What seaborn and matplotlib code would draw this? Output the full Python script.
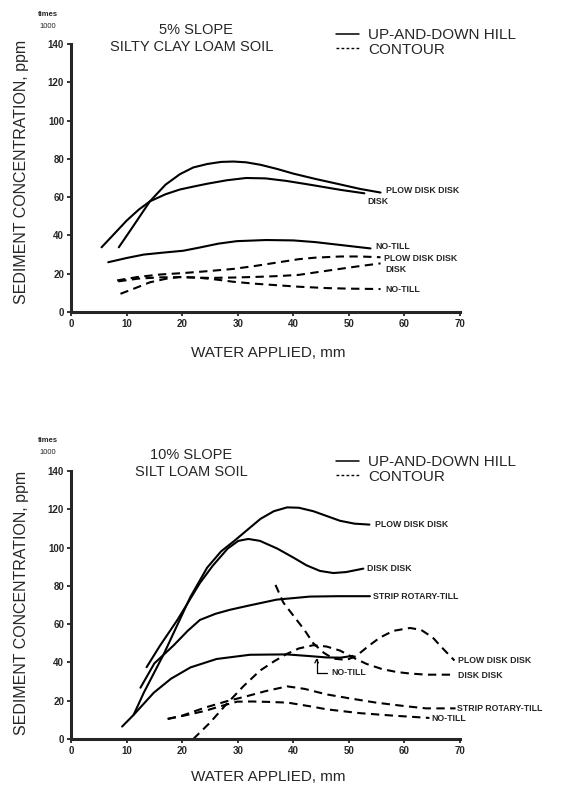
#!/usr/bin/env python3

import seaborn as sns
import matplotlib.pyplot as plt
from matplotlib.lines import Line2D

sns.set_style("ticks")
plt.rcParams['font.family'] = ['Liberation Sans', 'DejaVu Sans']

# ---- 5% slope, silty clay loam soil ----
ud_pdd5_x = [8.6, 11, 14.2, 17, 19.6, 22, 24.5, 27, 29.2, 31.5, 34.1, 37, 40, 44, 48.5, 52, 55.7]
ud_pdd5_y = [33.8, 44, 57.8, 66.5, 72, 75.5, 77.3, 78.4, 78.6, 78.2, 76.9, 74.8, 72.3, 69.5, 66.6, 64.3, 62.4]
ud_disk5_x = [5.5, 8, 10, 12.2, 14.2, 17, 19.6, 22, 24.5, 28, 31.5, 35, 38.7, 43, 48.5, 52.8]
ud_disk5_y = [33.8, 41.5, 47.7, 53.5, 57.8, 61.5, 64, 65.5, 67, 68.8, 70, 69.8, 68.5, 66.5, 63.8, 62]
ud_nt5_x = [6.7, 10, 13.1, 16.5, 20.2, 23.2, 26.5, 29.8, 35.1, 40, 44, 48.5, 53.9]
ud_nt5_y = [26, 28.2, 30, 31, 32, 33.7, 35.7, 37, 37.6, 37.4, 36.5, 35, 33.2]
ct_pdd5_x = [8.3, 12, 16.1, 20, 24, 29.2, 33, 37, 41, 44, 48.5, 52, 55.7]
ct_pdd5_y = [16.5, 18.3, 19.6, 20.3, 21.2, 22.5, 24, 25.8, 27.6, 28.4, 29, 29, 28.6]
ct_disk5_x = [8.5, 12, 16, 20, 25, 29.2, 34, 37.5, 41, 46.4, 51, 55.7]
ct_disk5_y = [16, 17.4, 18.1, 18.2, 17.8, 18, 18.4, 18.8, 19.4, 21.7, 23.6, 25.4]
ct_nt5_x = [8.9, 11.5, 14.2, 17, 19.6, 23, 26, 29.2, 33, 37, 41, 46, 50, 55.7]
ct_nt5_y = [9.5, 12.4, 15.5, 17.3, 18.3, 17.9, 17, 15.8, 14.8, 14, 13.2, 12.5, 12.2, 12]

# ---- 10% slope, silt loam soil ----
ud_pdd10_x = [11.3, 13.1, 16.7, 21.5, 24.5, 27, 29.3, 32, 34.1, 36.5, 38.9, 41, 43.6, 46, 48.4, 51, 53.7]
ud_pdd10_y = [12.8, 24.2, 44.4, 74.3, 89.5, 98, 103.3, 109.9, 115, 119, 121, 120.8, 119, 116.5, 114, 112.5, 112]
ud_dd10_x = [13.6, 16, 19.1, 21, 23.2, 25.5, 28.2, 30.1, 31.9, 34, 37.1, 40, 42.4, 44.8, 47.2, 49.5, 52.6]
ud_dd10_y = [37.5, 48.7, 62, 71, 81.5, 90.5, 99.5, 103.5, 104.5, 103.5, 99.5, 94.8, 90.7, 87.8, 86.7, 87.2, 89]
ud_strip10_x = [12.5, 15, 18.5, 21, 23.2, 26, 28.6, 32, 37, 43, 48, 53.8]
ud_strip10_y = [26.8, 39.5, 49, 56.5, 62.2, 65.4, 67.5, 69.7, 72.8, 74.4, 74.6, 74.6]
ud_nt10_x = [9.2, 11.3, 14.9, 18, 21.5, 26.2, 32.2, 38.8, 43, 46, 48.5, 50.7]
ud_nt10_y = [6.5, 12.7, 24.2, 31.5, 37.4, 41.8, 44, 44.2, 43.3, 42.6, 42.5, 43.4]
ct_pdd10_x = [36.8, 38.2, 40, 42, 43.6, 45.5, 47.2, 49.6, 51.4, 53.5, 55.6, 58, 61, 63, 65.1, 67, 69]
ct_pdd10_y = [80.5, 71.3, 64.5, 57, 50, 45, 42, 41.3, 43.5, 48.5, 53, 56.5, 58, 57, 53, 47, 41]
ct_dd10_x = [22, 25, 28, 31, 34, 36.5, 38.8, 41, 43.6, 46, 48.4, 50.8, 53.2, 56, 58.6, 61, 64, 68.7]
ct_dd10_y = [0, 8.5, 18.3, 27.5, 35.7, 40.5, 44.4, 47.3, 49, 48.3, 46.2, 42.5, 39.2, 36.5, 35, 34.2, 33.6, 33.6]
ct_strip10_x = [17.4, 20, 24, 28, 31.7, 35, 38.9, 42, 46, 50, 54.9, 60, 63.9, 69.2]
ct_strip10_y = [10.5, 12.2, 16.3, 19.7, 22.4, 25, 27.5, 26.2, 23.3, 21.3, 19, 17.2, 16, 16]
ct_nt10_x = [17.4, 20, 24, 27, 29.9, 32.5, 35.3, 39, 43.6, 46, 52, 58, 64.5]
ct_nt10_y = [10.5, 12, 14.6, 17.2, 19.5, 19.6, 19.4, 19, 16.8, 15.5, 13.5, 12.2, 11]

SOLID = '-'
DASHED = (0, (4, 2.6))

fig = plt.figure(figsize=(5.63, 7.90), dpi=100)
W, H = 563, 790


def px_axes(left, top, right, bottom):
    return fig.add_axes([left / W, 1 - bottom / H, (right - left) / W, (bottom - top) / H])


def setup(ax):
    ax.set_xlim(0, 70)
    ax.set_ylim(0, 140)
    ax.set_xticks(range(0, 71, 10))
    ax.set_yticks(range(0, 141, 20))
    for s in ['top', 'right']:
        ax.spines[s].set_visible(False)
    for s in ['left', 'bottom']:
        ax.spines[s].set_linewidth(2.2)
    ax.tick_params(direction='out', length=3, width=1.3, labelsize=7, pad=2)
    for lab in ax.get_xticklabels() + ax.get_yticklabels():
        lab.set_fontweight('bold')
    ax.set_xlabel('')
    ax.set_ylabel('')
    ax.patch.set_alpha(0)


def curve(ax, xs, ys, ls):
    sns.lineplot(x=xs, y=ys, ax=ax, color='black', lw=1.5, linestyle=ls,
                 sort=False, estimator=None)


def legend(top_px):
    handles = [Line2D([], [], color='black', lw=1.1, linestyle='-'),
               Line2D([], [], color='black', lw=1.0, linestyle=(0, (2, 1.6)))]
    fig.legend(handles, ['UP-AND-DOWN HILL', 'CONTOUR'], loc='upper left',
               bbox_to_anchor=(336 / W, 1 - top_px / H), frameon=False,
               fontsize=11, handlelength=1.5, handletextpad=0.6,
               labelspacing=0.05, borderpad=0, borderaxespad=0)


lab_kw = dict(fontsize=6.3, fontweight='bold', va='center', ha='left')

# ---- top panel ----
ax1 = px_axes(71, 44, 460, 312)
curve(ax1, ud_pdd5_x, ud_pdd5_y, SOLID)
curve(ax1, ud_disk5_x, ud_disk5_y, SOLID)
curve(ax1, ud_nt5_x, ud_nt5_y, SOLID)
curve(ax1, ct_pdd5_x, ct_pdd5_y, DASHED)
curve(ax1, ct_disk5_x, ct_disk5_y, DASHED)
curve(ax1, ct_nt5_x, ct_nt5_y, DASHED)
setup(ax1)
ax1.text(56.6, 63.5, 'PLOW DISK DISK', **lab_kw)
ax1.text(53.3, 57.5, 'DISK', **lab_kw)
ax1.text(54.8, 34, 'NO-TILL', **lab_kw)
ax1.text(56.4, 28, 'PLOW DISK DISK', **lab_kw)
ax1.text(56.6, 22, 'DISK', **lab_kw)
ax1.text(56.6, 11.5, 'NO-TILL', **lab_kw)

fig.text(196 / W, 1 - 30 / H, '5% SLOPE', ha='center', va='center', fontsize=10.5)
fig.text(192 / W, 1 - 47 / H, 'SILTY CLAY LOAM SOIL', ha='center', va='center', fontsize=10.5)
fig.text(48 / W, 1 - 15 / H, 'times', ha='center', va='center', fontsize=5.5, fontweight='bold')
fig.text(48 / W, 1 - 26 / H, '1000', ha='center', va='center', fontsize=5.5)
fig.text(22 / W, 1 - 172 / H, 'SEDIMENT CONCENTRATION, ppm', rotation=90,
         ha='center', va='center', fontsize=11.5)
fig.text(268 / W, 1 - 353 / H, 'WATER APPLIED, mm', ha='center', va='center', fontsize=11)
legend(28)

# ---- bottom panel ----
ax2 = px_axes(71, 471, 460, 739)
curve(ax2, ud_pdd10_x, ud_pdd10_y, SOLID)
curve(ax2, ud_dd10_x, ud_dd10_y, SOLID)
curve(ax2, ud_strip10_x, ud_strip10_y, SOLID)
curve(ax2, ud_nt10_x, ud_nt10_y, SOLID)
curve(ax2, ct_pdd10_x, ct_pdd10_y, DASHED)
curve(ax2, ct_dd10_x, ct_dd10_y, DASHED)
curve(ax2, ct_strip10_x, ct_strip10_y, DASHED)
curve(ax2, ct_nt10_x, ct_nt10_y, DASHED)
setup(ax2)
ax2.text(54.7, 112, 'PLOW DISK DISK', **lab_kw)
ax2.text(53.2, 89, 'DISK DISK', **lab_kw)
ax2.text(54.4, 74.6, 'STRIP ROTARY-TILL', **lab_kw)
ax2.text(69.6, 41, 'PLOW DISK DISK', **lab_kw)
ax2.text(69.6, 33.4, 'DISK DISK', **lab_kw)
ax2.text(69.4, 16, 'STRIP ROTARY-TILL', **lab_kw)
ax2.text(64.8, 10.5, 'NO-TILL', **lab_kw)
ax2.annotate('NO-TILL', xy=(44.2, 42.3), xytext=(46.9, 34.5), fontsize=6.3,
             fontweight='bold', va='center', ha='left',
             arrowprops=dict(arrowstyle='->', color='black', lw=0.9,
                             connectionstyle='angle,angleA=0,angleB=90,rad=0',
                             shrinkA=1, shrinkB=0))

fig.text(191 / W, 1 - 455 / H, '10% SLOPE', ha='center', va='center', fontsize=10.5)
fig.text(191 / W, 1 - 472 / H, 'SILT LOAM SOIL', ha='center', va='center', fontsize=10.5)
fig.text(48 / W, 1 - 441 / H, 'times', ha='center', va='center', fontsize=5.5, fontweight='bold')
fig.text(48 / W, 1 - 452 / H, '1000', ha='center', va='center', fontsize=5.5)
fig.text(22 / W, 1 - 603 / H, 'SEDIMENT CONCENTRATION, ppm', rotation=90,
         ha='center', va='center', fontsize=11.5)
fig.text(268 / W, 1 - 777 / H, 'WATER APPLIED, mm', ha='center', va='center', fontsize=11)
legend(455)

plt.savefig("out.png", dpi=100)
